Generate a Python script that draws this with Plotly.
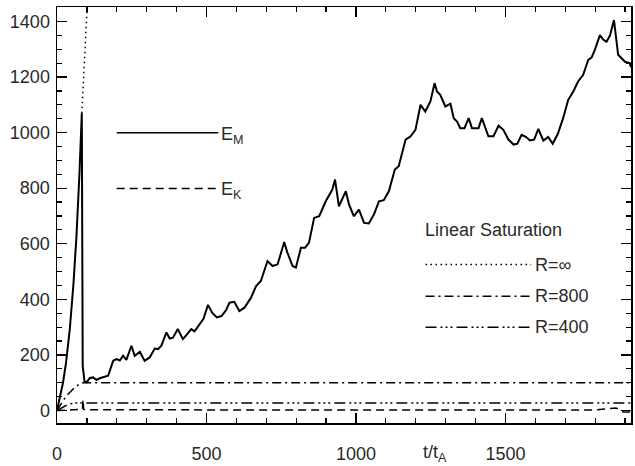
import plotly.graph_objects as go

# ---- data ----
t_em = [0, 10, 20, 30, 43, 55, 65, 75, 83, 86, 88, 92, 99, 110, 121, 132, 143, 160, 171, 188,
        199, 210, 221, 232, 249, 260, 277, 293, 310, 327, 338, 349, 366, 377, 388, 404, 421, 432,
        449, 460, 475, 490, 505, 520, 535, 550, 565, 577, 593, 610, 627, 649, 666, 682, 704, 721,
        738, 760, 770, 788, 799, 816, 830, 843, 860, 877, 899, 910, 921, 930, 943, 966, 977, 993,
        1010, 1027, 1043, 1060, 1077, 1093, 1110, 1130, 1143, 1166, 1182, 1199, 1216, 1232, 1249,
        1263, 1271, 1282, 1299, 1316, 1327, 1338, 1349, 1363, 1377, 1388, 1410, 1421, 1432, 1443,
        1460, 1477, 1493, 1510, 1527, 1540, 1554, 1568, 1582, 1596, 1610, 1627, 1643, 1658, 1675,
        1693, 1710, 1727, 1743, 1760, 1777, 1788, 1799, 1816, 1827, 1838, 1850, 1863, 1877, 1888,
        1900, 1916, 1920]
e_m = [0, 45, 100, 170, 295, 455, 625, 850, 1070, 160, 130, 105, 101, 117, 119, 110, 116, 120, 125, 179,
       185, 180, 197, 182, 233, 197, 211, 179, 191, 223, 221, 233, 281, 259, 262, 293, 257, 270,
       293, 285, 310, 330, 380, 350, 335, 340, 360, 388, 391, 358, 370, 406, 448, 466, 538, 520,
       526, 606, 570, 520, 514, 586, 586, 604, 693, 699, 753, 777, 795, 831, 735, 789, 741, 699,
       723, 675, 673, 705, 753, 757, 789, 867, 879, 975, 986, 1010, 1100, 1076, 1112,
       1178, 1148, 1136, 1094, 1104, 1052, 1040, 1016, 1016, 1052, 1016, 1016, 1052, 1016, 987,
       987, 1025, 1010, 975, 957, 960, 992, 985, 972, 975, 1013, 971, 984, 960, 995,
       1052, 1118, 1148, 1184, 1208, 1262, 1270, 1298, 1351, 1335, 1327, 1350, 1405, 1280, 1268,
       1255, 1250, 1235]

t_ek = [0, 20, 40, 60, 80, 85, 87, 89, 95, 300, 600, 900, 1200, 1500, 1800, 1870, 1880, 1893, 1905, 1920]
e_k = [0, 1, 2, 3, 3, 4, 40, 4, 3, 2, 2, 2, 2, 2, 2, 9, 4, -5, -5, -5]

t_rinf = [83, 90, 95, 101, 106]
e_rinf = [1070, 1215, 1325, 1455, 1560]

t_r800 = [0, 10, 20, 32, 45, 60, 75, 87, 1920]
e_r800 = [0, 20, 35, 53, 68, 84, 95, 100, 100]

t_r400 = [0, 15, 30, 45, 60, 1920]
e_r400 = [0, 10, 18, 24, 27, 27]

x_ticks = [0, 500, 1000, 1500]
y_ticks = [0, 200, 400, 600, 800, 1000, 1200, 1400]

FONT = "Liberation Sans, Arial, Helvetica, sans-serif"
TXT = "#2a2a2a"

DOT = "1.5px,3.5px"
DASH = "8px,5px"
DASHDOT = "9px,4px,2px,4px"
DASH3DOT = "11px,4px,2px,3px,2px,3px,2px,4px"

fig = go.Figure()
lw = 1.5
fig.add_trace(go.Scatter(x=t_ek, y=e_k, mode="lines", line=dict(color="black", width=lw, dash=DASH)))
fig.add_trace(go.Scatter(x=t_r400, y=e_r400, mode="lines", line=dict(color="black", width=lw, dash=DASH3DOT)))
fig.add_trace(go.Scatter(x=t_r800, y=e_r800, mode="lines", line=dict(color="black", width=lw, dash=DASHDOT)))
fig.add_trace(go.Scatter(x=t_rinf, y=e_rinf, mode="lines", line=dict(color="black", width=lw, dash=DOT)))
fig.add_trace(go.Scatter(x=t_em, y=e_m, mode="lines", line=dict(color="black", width=2)))

axis_common = dict(
    showline=True, linecolor="black", linewidth=1.5, mirror="allticks",
    ticks="inside", ticklen=10, tickwidth=1.2, tickcolor="black",
    showgrid=False, zeroline=False,
    tickfont=dict(family=FONT, size=18, color=TXT),
)
fig.update_xaxes(range=[0, 1920], tickvals=x_ticks, ticktext=[str(v) for v in x_ticks],
                 ticklabelstandoff=14,
                 minor=dict(dtick=100, ticks="inside", ticklen=5, tickwidth=1.2, tickcolor="black"),
                 **axis_common)
fig.update_yaxes(range=[-45, 1452], tickvals=y_ticks, ticktext=[str(v) for v in y_ticks],
                 ticklabelstandoff=2,
                 minor=dict(dtick=50, ticks="inside", ticklen=5, tickwidth=1.2, tickcolor="black"),
                 **axis_common)

shapes = []
annots = []

def leg_line(x0, x1, y, dash):
    shapes.append(dict(type="line", xref="paper", yref="paper", x0=x0, x1=x1, y0=y, y1=y,
                       line=dict(color="black", width=1.5, dash=dash)))

def txt(x, y, s, size=18):
    annots.append(dict(xref="paper", yref="paper", x=x, y=y, text=s, showarrow=False,
                       xanchor="left", yanchor="middle", font=dict(family=FONT, size=size, color=TXT)))

leg_line(0.104, 0.281, 0.698, "solid")
txt(0.283, 0.692, "E<sub>M</sub>")
leg_line(0.104, 0.281, 0.5636, DASH)
txt(0.283, 0.558, "E<sub>K</sub>")

txt(0.638, 0.465, "Linear Saturation")
leg_line(0.642, 0.826, 0.381, DOT)
txt(0.830, 0.381, "R=∞")
leg_line(0.642, 0.826, 0.3046, DASHDOT)
txt(0.830, 0.3046, "R=800")
leg_line(0.642, 0.826, 0.230, DASH3DOT)
txt(0.830, 0.230, "R=400")

annots.append(dict(xref="paper", yref="paper", x=0.634, y=-0.042, text="t/t<sub>A</sub>",
                   showarrow=False, xanchor="left", yanchor="top",
                   font=dict(family=FONT, size=18, color=TXT)))

fig.update_layout(
    width=635, height=466,
    margin=dict(l=57, r=2, t=7, b=42),
    paper_bgcolor="white", plot_bgcolor="white",
    showlegend=False, hovermode=False,
    shapes=shapes, annotations=annots,
)

fig.write_html("out.html", config={"displayModeBar": False, "staticPlot": True},
               post_script="document.body.style.margin='0';document.body.style.overflow='hidden';")
